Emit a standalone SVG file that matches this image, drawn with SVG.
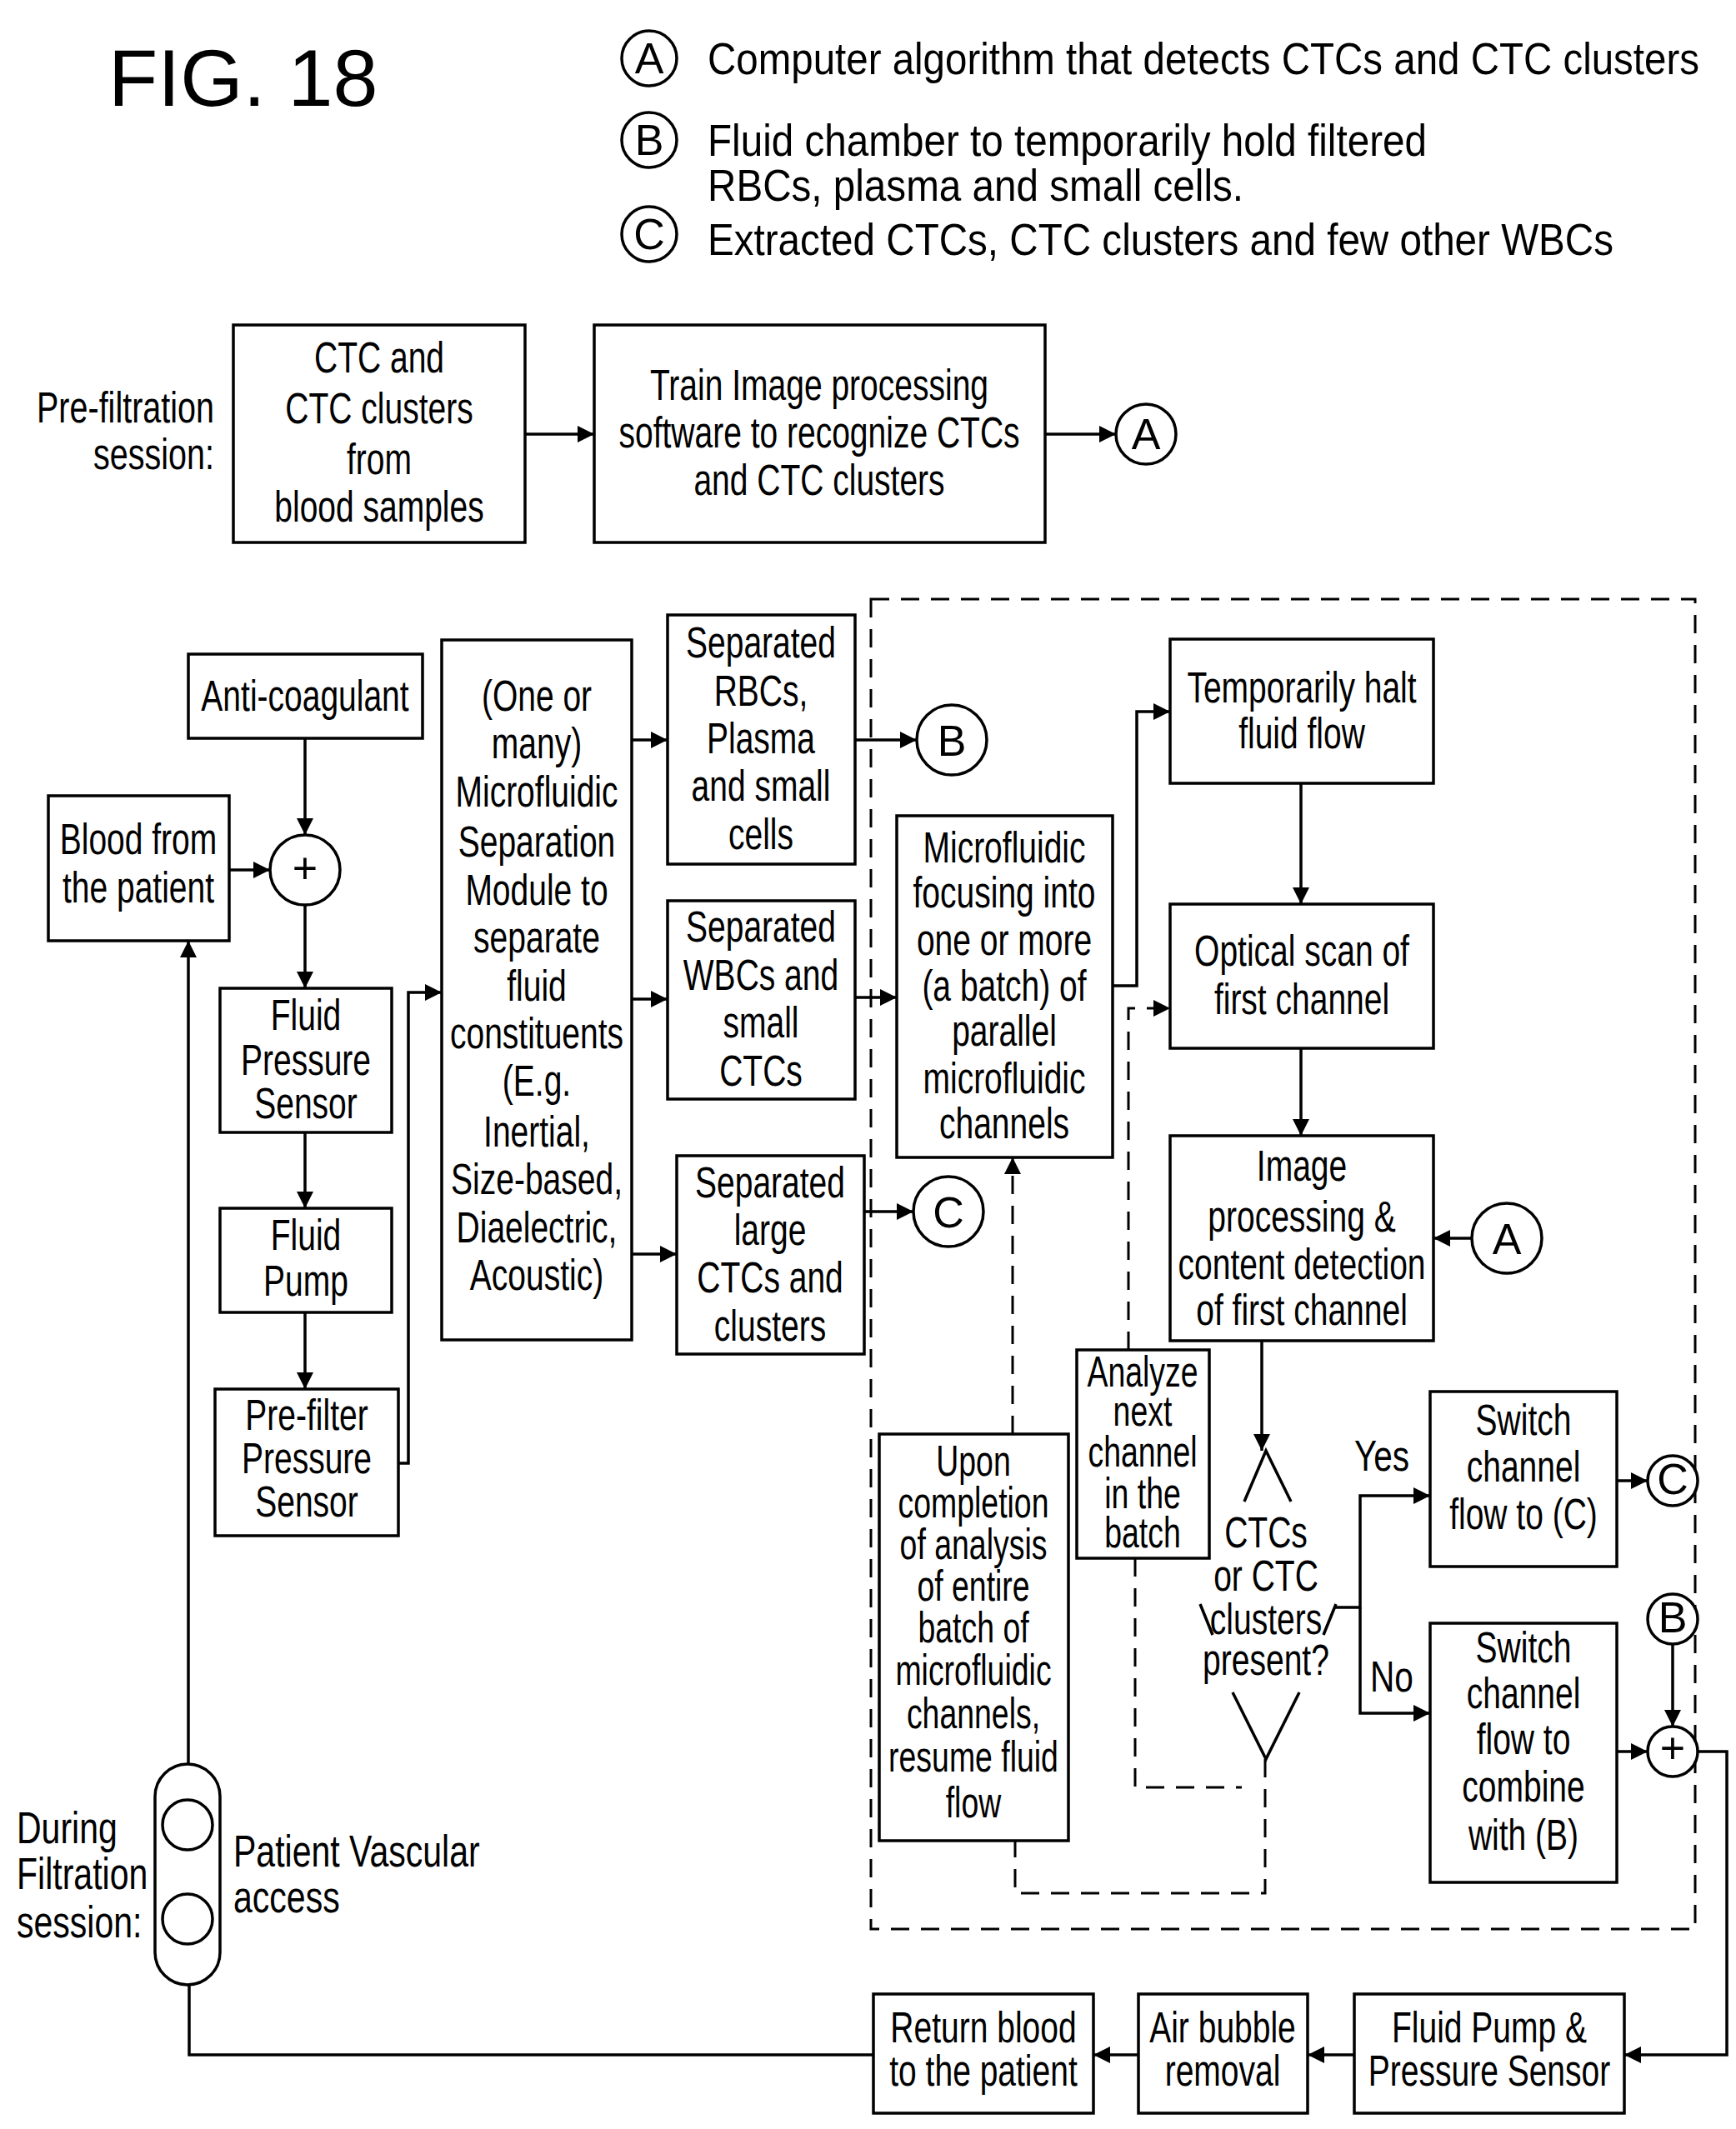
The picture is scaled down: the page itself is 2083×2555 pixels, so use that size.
<svg xmlns="http://www.w3.org/2000/svg" width="2083" height="2555" viewBox="0 0 2083 2555">
<style>
.t{font-family:"Liberation Sans",Arial,sans-serif;font-size:52px;text-anchor:middle;fill:#000}
.l{font-family:"Liberation Sans",Arial,sans-serif;font-size:54px;fill:#000}
.b{fill:#fff;stroke:#000;stroke-width:3.5}
.c{fill:none;stroke:#000;stroke-width:3.5}
.d{fill:none;stroke:#000;stroke-width:3;stroke-dasharray:22 14}
</style>
<defs>
<marker id="ar" viewBox="0 0 10 10" refX="10" refY="5" markerWidth="22" markerHeight="20" markerUnits="userSpaceOnUse" orient="auto"><path d="M0,0 L10,5 L0,10z" fill="#000"/></marker>
</defs>
<rect width="2083" height="2555" fill="#fff"/>
<text x="130" y="127" style="font-family:'Liberation Sans',Arial,sans-serif;font-size:97px">FIG. 18</text>
<g id="legend">
<circle class="b" cx="779" cy="70" r="33"/><text class="t" x="779" y="88" font-size="48">A</text>
<circle class="b" cx="779" cy="168" r="33"/><text class="t" x="779" y="186" font-size="48">B</text>
<circle class="b" cx="779" cy="281" r="33"/><text class="t" x="779" y="299" font-size="48">C</text>
<text class="l" x="849" y="89" textLength="1190" lengthAdjust="spacingAndGlyphs">Computer algorithm that detects CTCs and CTC clusters</text>
<text class="l" x="849" y="187" textLength="863" lengthAdjust="spacingAndGlyphs">Fluid chamber to temporarily hold filtered</text>
<text class="l" x="849" y="241" textLength="643" lengthAdjust="spacingAndGlyphs">RBCs, plasma and small cells.</text>
<text class="l" x="849" y="306" textLength="1087" lengthAdjust="spacingAndGlyphs">Extracted CTCs, CTC clusters and few other WBCs</text>
</g>
<text class="t" style="text-anchor:end" transform="translate(257,0) scale(0.76,1)"><tspan x="0" y="507">Pre-filtration</tspan><tspan x="0" y="563">session:</tspan></text>
<text class="l" font-size="52" transform="translate(20,0) scale(0.76,1)"><tspan x="0" y="2212">During</tspan><tspan x="0" y="2267">Filtration</tspan><tspan x="0" y="2325">session:</tspan></text>
<text class="l" font-size="52" transform="translate(280,0) scale(0.76,1)"><tspan x="0" y="2240">Patient Vascular</tspan><tspan x="0" y="2295">access</tspan></text>
<rect class="d" x="1045" y="719" width="989" height="1596"/>
<g id="connectors">
<path class="c" marker-end="url(#ar)" d="M630,521 H713"/>
<path class="c" marker-end="url(#ar)" d="M1254,521 H1339"/>
<path class="c" marker-end="url(#ar)" d="M366,886 V1002"/>
<path class="c" marker-end="url(#ar)" d="M275,1044 H324"/>
<path class="c" marker-end="url(#ar)" d="M366,1086 V1186"/>
<path class="c" marker-end="url(#ar)" d="M366,1359 V1450"/>
<path class="c" marker-end="url(#ar)" d="M366,1575 V1667"/>
<path class="c" marker-end="url(#ar)" d="M478,1756 H490 V1191 H530"/>
<path class="c" marker-end="url(#ar)" d="M758,888 H801"/>
<path class="c" marker-end="url(#ar)" d="M758,1199 H801"/>
<path class="c" marker-end="url(#ar)" d="M758,1505 H812"/>
<path class="c" marker-end="url(#ar)" d="M1026,888 H1100"/>
<path class="c" marker-end="url(#ar)" d="M1026,1197 H1076"/>
<path class="c" marker-end="url(#ar)" d="M1037,1454 H1096"/>
<path class="c" marker-end="url(#ar)" d="M1335,1183 H1364 V854 H1404"/>
<path class="c" marker-end="url(#ar)" d="M1561,940 V1085"/>
<path class="c" marker-end="url(#ar)" d="M1561,1258 V1363"/>
<path class="c" marker-end="url(#ar)" d="M1766,1486 H1720"/>
<path class="c" marker-end="url(#ar)" d="M1514,1609 V1741"/>
<path class="c" marker-end="url(#ar)" d="M1602,1929 H1632 V1795 H1716"/>
<path class="c" marker-end="url(#ar)" d="M1632,1929 V2056 H1716"/>
<path class="c" marker-end="url(#ar)" d="M1940,1777 H1977"/>
<path class="c" marker-end="url(#ar)" d="M2007,1973 V2072"/>
<path class="c" marker-end="url(#ar)" d="M1940,2102 H1977"/>
<path class="c" marker-end="url(#ar)" d="M2037,2102 H2072 V2466 H1949"/>
<path class="c" marker-end="url(#ar)" d="M1625,2466 H1569"/>
<path class="c" marker-end="url(#ar)" d="M1366,2466 H1312"/>
<path class="c" marker-end="url(#ar)" d="M1048,2466 H227 V2333"/>
<path class="c" marker-end="url(#ar)" d="M226,2160 V1129"/>
<path class="d" marker-end="url(#ar)" d="M1215,1721 V1389"/>
<path class="d" marker-end="url(#ar)" d="M1354,1620 V1210 H1404"/>
<path class="d" d="M1362,1870 V2145 H1490"/>
<path class="d" d="M1518,2111 V2272 H1218 V2209"/>
</g>
<g id="ctc"><rect class="b" x="280" y="390" width="350" height="261"/><text class="t" transform="translate(455,0) scale(0.75,1)"><tspan x="0" y="447">CTC and</tspan><tspan x="0" y="508">CTC clusters</tspan><tspan x="0" y="569">from</tspan><tspan x="0" y="626">blood samples</tspan></text></g>
<g id="train"><rect class="b" x="713" y="390" width="541" height="261"/><text class="t" transform="translate(983,0) scale(0.75,1)"><tspan x="0" y="480">Train Image processing</tspan><tspan x="0" y="537">software to recognize CTCs</tspan><tspan x="0" y="594">and CTC clusters</tspan></text></g>
<g id="A1"><circle class="b" cx="1375" cy="521" r="36"/><text class="t" x="1375" y="539" font-size="50">A</text></g>
<g id="anti"><rect class="b" x="226" y="785" width="281" height="101"/><text class="t" transform="translate(366,0) scale(0.75,1)"><tspan x="0" y="853">Anti-coagulant</tspan></text></g>
<g id="blood"><rect class="b" x="58" y="955" width="217" height="174"/><text class="t" transform="translate(166,0) scale(0.75,1)"><tspan x="0" y="1025">Blood from</tspan><tspan x="0" y="1083">the patient</tspan></text></g>
<g id="plus1"><circle class="b" cx="366" cy="1044" r="42"/><text class="t" x="366" y="1060" font-size="44">+</text></g>
<g id="fps"><rect class="b" x="264" y="1186" width="206" height="173"/><text class="t" transform="translate(367,0) scale(0.75,1)"><tspan x="0" y="1236">Fluid</tspan><tspan x="0" y="1290">Pressure</tspan><tspan x="0" y="1342">Sensor</tspan></text></g>
<g id="pump"><rect class="b" x="264" y="1450" width="206" height="125"/><text class="t" transform="translate(367,0) scale(0.75,1)"><tspan x="0" y="1500">Fluid</tspan><tspan x="0" y="1555">Pump</tspan></text></g>
<g id="prefilter"><rect class="b" x="258" y="1667" width="220" height="176"/><text class="t" transform="translate(368,0) scale(0.75,1)"><tspan x="0" y="1716">Pre-filter</tspan><tspan x="0" y="1768">Pressure</tspan><tspan x="0" y="1820">Sensor</tspan></text></g>
<g id="module"><rect class="b" x="530" y="768" width="228" height="840"/><text class="t" transform="translate(644,0) scale(0.75,1)"><tspan x="0" y="853">(One or</tspan><tspan x="0" y="910">many)</tspan><tspan x="0" y="968">Microfluidic</tspan><tspan x="0" y="1028">Separation</tspan><tspan x="0" y="1086">Module to</tspan><tspan x="0" y="1143">separate</tspan><tspan x="0" y="1201">fluid</tspan><tspan x="0" y="1258">constituents</tspan><tspan x="0" y="1315">(E.g.</tspan><tspan x="0" y="1376">Inertial,</tspan><tspan x="0" y="1433">Size-based,</tspan><tspan x="0" y="1491">Diaelectric,</tspan><tspan x="0" y="1548">Acoustic)</tspan></text></g>
<g id="rbc"><rect class="b" x="801" y="738" width="225" height="299"/><text class="t" transform="translate(913,0) scale(0.75,1)"><tspan x="0" y="789">Separated</tspan><tspan x="0" y="847">RBCs,</tspan><tspan x="0" y="904">Plasma</tspan><tspan x="0" y="961">and small</tspan><tspan x="0" y="1019">cells</tspan></text></g>
<g id="wbc"><rect class="b" x="801" y="1081" width="225" height="238"/><text class="t" transform="translate(913,0) scale(0.75,1)"><tspan x="0" y="1130">Separated</tspan><tspan x="0" y="1188">WBCs and</tspan><tspan x="0" y="1245">small</tspan><tspan x="0" y="1303">CTCs</tspan></text></g>
<g id="large"><rect class="b" x="812" y="1387" width="225" height="238"/><text class="t" transform="translate(924,0) scale(0.75,1)"><tspan x="0" y="1437">Separated</tspan><tspan x="0" y="1494">large</tspan><tspan x="0" y="1551">CTCs and</tspan><tspan x="0" y="1609">clusters</tspan></text></g>
<g id="B1"><circle class="b" cx="1142" cy="888" r="42"/><text class="t" x="1142" y="907" font-size="54">B</text></g>
<g id="C1"><circle class="b" cx="1138" cy="1454" r="42"/><text class="t" x="1138" y="1473" font-size="54">C</text></g>
<g id="focus"><rect class="b" x="1076" y="979" width="259" height="410"/><text class="t" transform="translate(1205,0) scale(0.75,1)"><tspan x="0" y="1035">Microfluidic</tspan><tspan x="0" y="1089">focusing into</tspan><tspan x="0" y="1146">one or more</tspan><tspan x="0" y="1201">(a batch) of</tspan><tspan x="0" y="1255">parallel</tspan><tspan x="0" y="1312">microfluidic</tspan><tspan x="0" y="1366">channels</tspan></text></g>
<g id="halt"><rect class="b" x="1404" y="767" width="316" height="173"/><text class="t" transform="translate(1562,0) scale(0.75,1)"><tspan x="0" y="843">Temporarily halt</tspan><tspan x="0" y="898">fluid flow</tspan></text></g>
<g id="scan"><rect class="b" x="1404" y="1085" width="316" height="173"/><text class="t" transform="translate(1562,0) scale(0.75,1)"><tspan x="0" y="1159">Optical scan of</tspan><tspan x="0" y="1217">first channel</tspan></text></g>
<g id="image"><rect class="b" x="1404" y="1363" width="316" height="246"/><text class="t" transform="translate(1562,0) scale(0.75,1)"><tspan x="0" y="1417">Image</tspan><tspan x="0" y="1478">processing &amp;</tspan><tspan x="0" y="1535">content detection</tspan><tspan x="0" y="1590">of first channel</tspan></text></g>
<g id="A2"><circle class="b" cx="1808" cy="1486" r="42"/><text class="t" x="1808" y="1505" font-size="54">A</text></g>
<g id="analyze"><rect class="b" x="1292" y="1620" width="159" height="250"/><text class="t" font-size="46" transform="translate(1371,0) scale(0.72,1)"><tspan x="0" y="1664">Analyze</tspan><tspan x="0" y="1711">next</tspan><tspan x="0" y="1760">channel</tspan><tspan x="0" y="1810">in the</tspan><tspan x="0" y="1857">batch</tspan></text></g>
<g id="upon"><rect class="b" x="1055" y="1721" width="227" height="488"/><text class="t" font-size="48" transform="translate(1168,0) scale(0.72,1)"><tspan x="0" y="1771">Upon</tspan><tspan x="0" y="1821">completion</tspan><tspan x="0" y="1871">of analysis</tspan><tspan x="0" y="1921">of entire</tspan><tspan x="0" y="1971">batch of</tspan><tspan x="0" y="2022">microfluidic</tspan><tspan x="0" y="2074">channels,</tspan><tspan x="0" y="2126">resume fluid</tspan><tspan x="0" y="2181">flow</tspan></text></g>
<g id="decision">
<path class="c" d="M1493,1802 L1519,1741 L1549,1802 M1479,2031 L1519,2111 L1559,2031 M1440,1925 L1455,1962 M1603,1925 L1588,1962"/>
<text class="t" font-size="50" transform="translate(1519,0) scale(0.75,1)"><tspan x="0" y="1857">CTCs</tspan><tspan x="0" y="1909">or CTC</tspan><tspan x="0" y="1961">clusters</tspan><tspan x="0" y="2010">present?</tspan></text>
</g>
<text class="t" transform="translate(1658,0) scale(0.78,1)"><tspan x="0" y="1765">Yes</tspan></text>
<text class="t" transform="translate(1670,0) scale(0.78,1)"><tspan x="0" y="2030">No</tspan></text>
<g id="switchC"><rect class="b" x="1716" y="1670" width="224" height="210"/><text class="t" transform="translate(1828,0) scale(0.75,1)"><tspan x="0" y="1722">Switch</tspan><tspan x="0" y="1778">channel</tspan><tspan x="0" y="1835">flow to (C)</tspan></text></g>
<g id="C2"><circle class="b" cx="2007" cy="1777" r="30"/><text class="t" x="2007" y="1793" font-size="44">C</text></g>
<g id="switchB"><rect class="b" x="1716" y="1948" width="224" height="311"/><text class="t" transform="translate(1828,0) scale(0.75,1)"><tspan x="0" y="1995">Switch</tspan><tspan x="0" y="2050">channel</tspan><tspan x="0" y="2105">flow to</tspan><tspan x="0" y="2162">combine</tspan><tspan x="0" y="2220">with (B)</tspan></text></g>
<g id="B2"><circle class="b" cx="2007" cy="1943" r="30"/><text class="t" x="2007" y="1959" font-size="44">B</text></g>
<g id="plus2"><circle class="b" cx="2007" cy="2102" r="30"/><text class="t" x="2007" y="2116" font-size="40">+</text></g>
<g id="access"><rect class="b" x="186" y="2117" width="78" height="265" rx="39"/><circle class="b" cx="225" cy="2190" r="30"/><circle class="b" cx="225" cy="2303" r="30"/></g>
<g id="ret"><rect class="b" x="1048" y="2393" width="264" height="143"/><text class="t" transform="translate(1180,0) scale(0.75,1)"><tspan x="0" y="2451">Return blood</tspan><tspan x="0" y="2503">to the patient</tspan></text></g>
<g id="air"><rect class="b" x="1366" y="2393" width="203" height="143"/><text class="t" transform="translate(1467,0) scale(0.75,1)"><tspan x="0" y="2451">Air bubble</tspan><tspan x="0" y="2503">removal</tspan></text></g>
<g id="pump2"><rect class="b" x="1625" y="2393" width="324" height="143"/><text class="t" transform="translate(1787,0) scale(0.75,1)"><tspan x="0" y="2451">Fluid Pump &amp;</tspan><tspan x="0" y="2503">Pressure Sensor</tspan></text></g>
</svg>
